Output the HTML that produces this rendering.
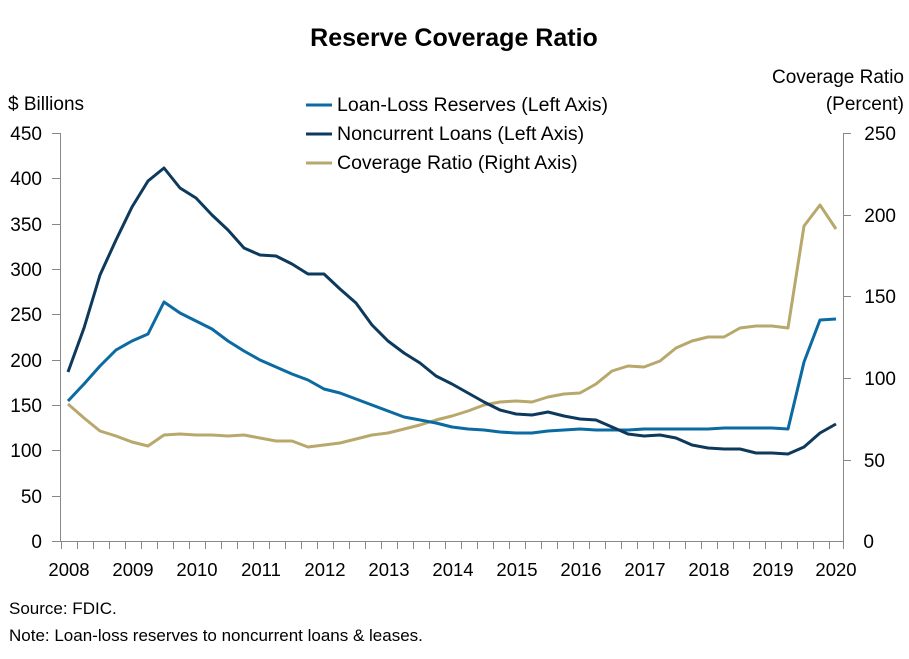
<!DOCTYPE html>
<html><head><style>body{margin:0;background:#fff}svg{display:block;font-family:"Liberation Sans",sans-serif}</style></head><body>
<svg width="909" height="659" viewBox="0 0 909 659" xmlns="http://www.w3.org/2000/svg">
<text x="454" y="46" font-size="25" font-weight="bold" text-anchor="middle" fill="#000">Reserve Coverage Ratio</text>
<text x="8" y="110" font-size="19">$ Billions</text>
<text x="904" y="83" font-size="19" text-anchor="end">Coverage Ratio</text>
<text x="904" y="110" font-size="19" text-anchor="end">(Percent)</text>
<g stroke-width="3" fill="none">
<line x1="306" y1="105" x2="332" y2="105" stroke="#0a6aa1"/>
<line x1="306" y1="134" x2="332" y2="134" stroke="#0d3a5c"/>
<line x1="306" y1="163" x2="332" y2="163" stroke="#b8a86c"/>
</g>
<g font-size="19.5"><text x="337" y="111">Loan-Loss Reserves (Left Axis)</text><text x="337" y="140">Noncurrent Loans (Left Axis)</text><text x="337" y="169">Coverage Ratio (Right Axis)</text></g>
<g stroke="#888" stroke-width="1" fill="none">
<line x1="60.5" y1="133" x2="60.5" y2="541"/><line x1="52" y1="541.5" x2="843" y2="541.5"/>
<line x1="843.5" y1="133" x2="843.5" y2="549"/>
<path d="M52 133.5h8M52 178.5h8M52 224.5h8M52 269.5h8M52 314.5h8M52 360.5h8M52 405.5h8M52 450.5h8M52 496.5h8M843 133.5h8M843 215.5h8M843 296.5h8M843 378.5h8M843 460.5h8"/>
</g>
<g font-size="19" text-anchor="end">
<text x="42" y="140">450</text><text x="42" y="185">400</text><text x="42" y="231">350</text><text x="42" y="276">300</text><text x="42" y="321">250</text><text x="42" y="367">200</text><text x="42" y="412">150</text><text x="42" y="457">100</text><text x="42" y="503">50</text><text x="42" y="548">0</text>
</g>
<g font-size="19" text-anchor="end">
<text x="896" y="140">250</text><text x="896" y="222">200</text><text x="896" y="303">150</text><text x="896" y="385">100</text><text x="885" y="467">50</text><text x="874" y="548">0</text>
</g>
<g font-size="18.5" text-anchor="middle">
<text x="69" y="576">2008</text><text x="133" y="576">2009</text><text x="197" y="576">2010</text><text x="261" y="576">2011</text><text x="325" y="576">2012</text><text x="389" y="576">2013</text><text x="453" y="576">2014</text><text x="517" y="576">2015</text><text x="581" y="576">2016</text><text x="645" y="576">2017</text><text x="709" y="576">2018</text><text x="773" y="576">2019</text><text x="836" y="576">2020</text>
</g>
<path stroke="#888" stroke-width="1" d="M61.5 541v8M77.5 541v8M93.5 541v8M109.5 541v8M125.5 541v8M141.5 541v8M157.5 541v8M173.5 541v8M189.5 541v8M205.5 541v8M221.5 541v8M237.5 541v8M253.5 541v8M269.5 541v8M285.5 541v8M301.5 541v8M317.5 541v8M333.5 541v8M349.5 541v8M365.5 541v8M381.5 541v8M397.5 541v8M413.5 541v8M429.5 541v8M445.5 541v8M461.5 541v8M477.5 541v8M493.5 541v8M509.5 541v8M525.5 541v8M541.5 541v8M557.5 541v8M573.5 541v8M589.5 541v8M605.5 541v8M621.5 541v8M637.5 541v8M653.5 541v8M669.5 541v8M685.5 541v8M701.5 541v8M717.5 541v8M733.5 541v8M749.5 541v8M765.5 541v8M781.5 541v8M797.5 541v8M813.5 541v8M829.5 541v8"/>
<g fill="none" stroke-width="3" stroke-linejoin="round">
<polyline stroke="#b8a86c" points="68,404 84,418 100,431 116,436 132,442 148,446 164,435 180,434 196,435 212,435 228,436 244,435 260,438 276,441 292,441 308,447 324,445 340,443 356,439 372,435 388,433 404,429 420,425 436,420 452,416 468,411 484,405 500,402 516,401 532,402 548,397 564,394 580,393 596,384 612,371 628,366 644,367 660,361 676,348 692,341 708,337 724,337 740,328 756,326 772,326 788,328 804,226 820,205 836,229"/>
<polyline stroke="#0a6aa1" points="68,401 84,384 100,366 116,350 132,341 148,334 164,302 180,313 196,321 212,329 228,341 244,351 260,360 276,367 292,374 308,380 324,389 340,393 356,399 372,405 388,411 404,417 420,420 436,423 452,427 468,429 484,430 500,432 516,433 532,433 548,431 564,430 580,429 596,430 612,430 628,430 644,429 660,429 676,429 692,429 708,429 724,428 740,428 756,428 772,428 788,429 804,362 820,320 836,319"/>
<polyline stroke="#0d3a5c" points="68,372 84,328 100,275 116,240 132,207 148,181 164,168 180,188 196,198 212,215 228,230 244,248 260,255 276,256 292,264 308,274 324,274 340,289 356,303 372,325 388,341 404,353 420,363 436,376 452,384 468,393 484,402 500,410 516,414 532,415 548,412 564,416 580,419 596,420 612,427 628,434 644,436 660,435 676,438 692,445 708,448 724,449 740,449 756,453 772,453 788,454 804,447 820,433 836,424"/>
</g>
<text x="9" y="614" font-size="17">Source: FDIC.</text>
<text x="9" y="641" font-size="17">Note: Loan-loss reserves to noncurrent loans &amp; leases.</text>
</svg>
</body></html>
